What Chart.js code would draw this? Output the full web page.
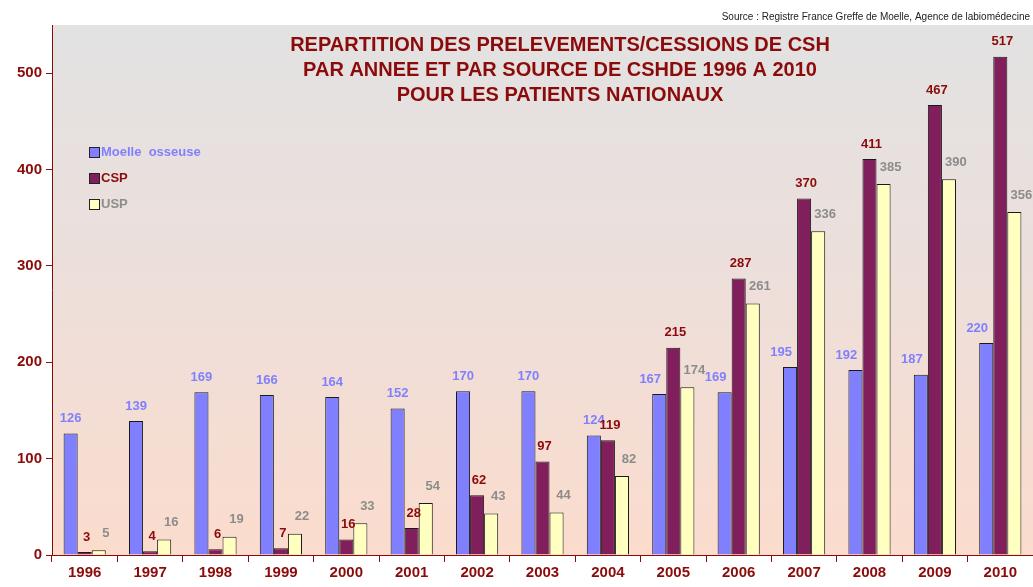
<!DOCTYPE html>
<html>
<head>
<meta charset="utf-8">
<script src="https://cdn.jsdelivr.net/npm/chart.js@4/dist/chart.umd.min.js"></script>
<style>
  html, body { margin: 0; padding: 0; background: #fff; }
  #wrap { width: 1033px; height: 587px; position: relative; }
</style>
</head>
<body>
<div id="wrap"><canvas id="chart" width="1033" height="587"></canvas></div>
<script>
  // values
  var years = ["1996", "1997", "1998", "1999", "2000", "2001", "2002", "2003", "2004", "2005", "2006", "2007", "2008", "2009", "2010"];
  var moelle = [126, 139, 169, 166, 164, 152, 170, 170, 124, 167, 169, 195, 192, 187, 220];
  var csp = [3, 4, 6, 7, 16, 28, 62, 97, 119, 215, 287, 370, 411, 467, 517];
  var usp = [5, 16, 19, 22, 33, 54, 43, 44, 82, 174, 261, 336, 385, 390, 356];
  var seriesNames = ["Moelle  osseuse", "CSP", "USP"];
  var titleLines = ["REPARTITION DES PRELEVEMENTS/CESSIONS DE CSH", "PAR ANNEE ET PAR SOURCE DE CSHDE 1996 A 2010", "POUR LES PATIENTS NATIONAUX"];
  var sourceText = "Source : Registre France Greffe de Moelle, Agence de labiomédecine";

  var dark = "#8b0a0a";
  var fills = ["#8080ff", "#801f5c", "#ffffc0"];
  var labelColors = ["#8080ff", "#8b0a0a", "#8c8c8c"];
  var labelDx = [0, 2, 7];
  var labelDy = [-15, -15, -17];
  var fontFam = "'Liberation Sans Narrow', 'Liberation Sans', Arial, sans-serif";

  var decor = {
    id: "decor",
    beforeDraw: function (chart) {
      var ctx = chart.ctx, a = chart.chartArea;
      var g = ctx.createLinearGradient(0, a.top, 0, a.bottom);
      g.addColorStop(0, "#e2e2e2");
      g.addColorStop(0.45, "#ecdfdb");
      g.addColorStop(1, "#fbdccd");
      ctx.save();
      ctx.fillStyle = g;
      ctx.fillRect(a.left, a.top, a.right - a.left, a.bottom - a.top);
      ctx.restore();
    },
    afterDatasetsDraw: function (chart) {
      var ctx = chart.ctx;
      ctx.save();
      // value labels (blue ones move left when the CSP bar next to them is taller)
      chart.data.datasets.forEach(function (ds, i) {
        var meta = chart.getDatasetMeta(i);
        ctx.fillStyle = labelColors[i];
        ctx.font = "bold 13px 'Liberation Sans', Arial, sans-serif";
        ctx.textAlign = "center";
        ctx.textBaseline = "middle";
        meta.data.forEach(function (bar, j) {
          var dx = labelDx[i];
          if (i === 0 && csp[j] > moelle[j]) dx = -9;
          ctx.fillText(String(ds.data[j]), bar.x + dx, bar.y + labelDy[i]);
        });
      });
      // title
      ctx.fillStyle = dark;
      ctx.font = "bold 20px " + fontFam;
      titleLines.forEach(function (t, k) {
        ctx.fillText(t, 560, 45 + k * 25);
      });
      // source
      ctx.fillStyle = "#222";
      ctx.font = "10px " + fontFam;
      ctx.textAlign = "right";
      ctx.fillText(sourceText, 1030, 17);
      // legend
      ctx.textAlign = "left";
      ctx.font = "bold 13px 'Liberation Sans', Arial, sans-serif";
      seriesNames.forEach(function (name, k) {
        var y = 152 + k * 26;
        ctx.fillStyle = fills[k];
        ctx.fillRect(90, y - 4, 9, 9);
        ctx.strokeStyle = "#222";
        ctx.lineWidth = 1;
        ctx.strokeRect(89.5, y - 4.5, 10, 10);
        ctx.fillStyle = labelColors[k];
        ctx.fillText(name, 101, y);
      });
      ctx.restore();
    }
  };

  new Chart(document.getElementById("chart"), {
    type: "bar",
    data: {
      labels: years,
      datasets: [moelle, csp, usp].map(function (vals, i) {
        return {
          label: seriesNames[i],
          data: vals,
          backgroundColor: fills[i],
          borderColor: "#1a1a1a",
          borderWidth: 1,
          categoryPercentage: 0.645,
          barPercentage: 1
        };
      })
    },
    options: {
      responsive: false,
      animation: false,
      layout: { padding: { top: 25, right: 0, left: 0, bottom: 0 } },
      plugins: { legend: { display: false }, tooltip: { enabled: false }, title: { display: false } },
      scales: {
        x: {
          grid: { display: true, drawOnChartArea: false, offset: true, color: dark, tickLength: 7, tickWidth: 1 },
          border: { color: dark, width: 1 },
          ticks: { color: dark, font: { family: "'Liberation Sans', Arial, sans-serif", size: 15, weight: "bold" }, padding: 2 },
          afterFit: function (s) { s.height = 32; }
        },
        y: {
          min: 0,
          max: 550,
          grid: {
            display: true,
            drawOnChartArea: false,
            tickLength: 6,
            color: function (c) { return c.tick && c.tick.value % 100 === 0 ? dark : "rgba(0,0,0,0)"; }
          },
          border: { color: dark, width: 1 },
          ticks: {
            stepSize: 100,
            color: dark,
            font: { family: "'Liberation Sans', Arial, sans-serif", size: 15, weight: "bold" },
            padding: 4,
            callback: function (v) { return v % 100 === 0 ? v : ""; }
          },
          afterFit: function (s) { s.width = 52; }
        }
      }
    },
    plugins: [decor]
  });
</script>
</body>
</html>
